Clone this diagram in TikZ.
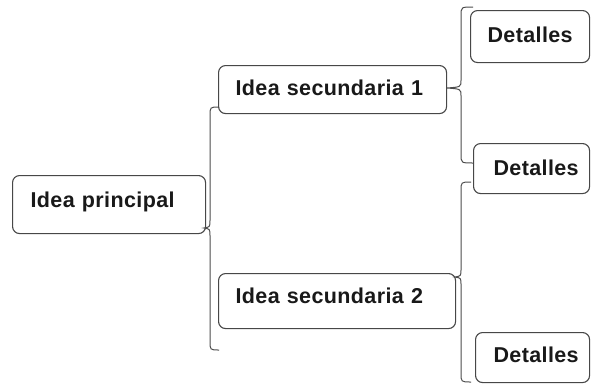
\documentclass[tikz,border=0pt]{standalone}
\usepackage{fontspec}
\setmainfont{Liberation Sans}
\newfontfamily\boxfont[LetterSpace=1.8]{Liberation Sans}
\begin{document}
% Brace "{": #1 column x, #2 top y, #3 x where the ends curl to,
% #4 tip y, #5 tip x, #6 bottom y
\newcommand\mapbrace[6]{%
  \draw[bracket] (#3,#2) .. controls (#1,#2) .. (#1,#2+9)
    -- (#1,#4-8) .. controls (#1,#4-1) .. (#5,#4)
    .. controls (#1,#4+1) .. (#1,#4+8)
    -- (#1,#6-9) .. controls (#1,#6) .. (#3,#6);}
\begin{tikzpicture}[x=1pt,y=-1pt,
  box/.style={draw=black!72, line width=1.1pt, rounded corners=7pt,
    fill=white, anchor=north west, align=left, inner ysep=0pt,
    font=\boxfont\fontsize{21.5}{25}\selectfont\bfseries, text=black!90},
  bracket/.style={draw=black!70, line width=1pt}]
\useasboundingbox (0,0) rectangle (591,386);

% boxes: corner, inner xsep, text width, text height, text depth
\node[box, inner xsep=18pt, text width=157pt, text height=32pt, text depth=26pt]
  (principal) at (12,175) {Idea principal};
\node[box, inner xsep=17pt, text width=194pt, text height=30pt, text depth=18pt]
  (sec1) at (218,65) {Idea secundaria 1};
\node[box, inner xsep=17pt, text width=203pt, text height=30pt, text depth=25pt]
  (sec2) at (218,273) {Idea secundaria 2};
\node[box, inner xsep=17pt, text width=85pt, text height=32pt, text depth=20pt]
  (det1) at (470,10) {Detalles};
\node[box, inner xsep=20pt, text width=76pt, text height=32pt, text depth=18pt]
  (det2) at (473,143) {Detalles};
\node[box, inner xsep=18pt, text width=78pt, text height=30pt, text depth=20pt]
  (det3) at (475,332) {Detalles};

% braces grouping the branches
\mapbrace{210}{107}{219}{228}{204}{350}
\mapbrace{461}{7}{473}{88}{447}{163}
\mapbrace{461}{182}{471}{277}{455}{382}
\end{tikzpicture}
\end{document}
